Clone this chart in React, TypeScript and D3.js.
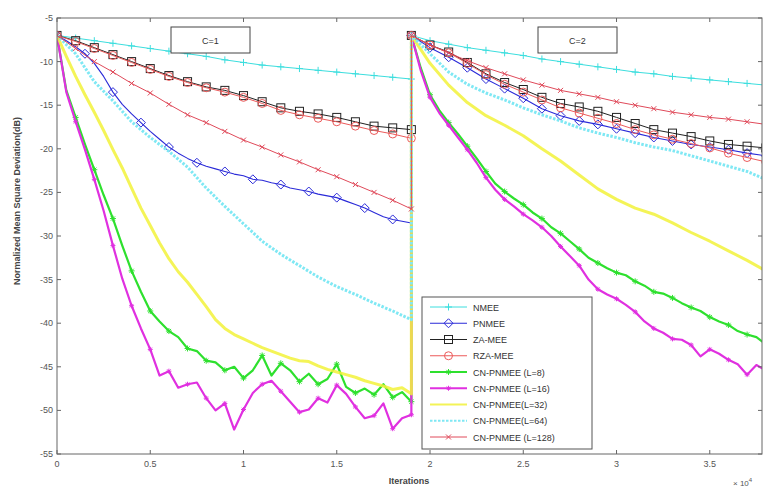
import React from "react";
import * as d3 from "d3";

// sample positions (x in units of 10^4 iterations)
const X1 = [0, 0.1, 0.2, 0.3, 0.4, 0.5, 0.6, 0.7, 0.8, 0.9, 1.0, 1.1, 1.2, 1.3, 1.4, 1.5, 1.6, 1.7, 1.8, 1.9];
const X2 = [1.9, 2.0, 2.1, 2.2, 2.3, 2.4, 2.5, 2.6, 2.7, 2.8, 2.9, 3.0, 3.1, 3.2, 3.3, 3.4, 3.5, 3.6, 3.7, 3.8];
const F1 = [0, 0.05, 0.1, 0.15, 0.2, 0.25, 0.3, 0.35, 0.4, 0.45, 0.5, 0.55, 0.6, 0.65, 0.7, 0.75, 0.8, 0.85, 0.9, 0.95, 1.0, 1.05, 1.1, 1.15, 1.2, 1.25, 1.3, 1.35, 1.4, 1.45, 1.5, 1.55, 1.6, 1.65, 1.7, 1.75, 1.8, 1.85, 1.9];
const F2 = [1.9, 1.95, 2.0, 2.05, 2.1, 2.15, 2.2, 2.25, 2.3, 2.35, 2.4, 2.45, 2.5, 2.55, 2.6, 2.65, 2.7, 2.75, 2.8, 2.85, 2.9, 2.95, 3.0, 3.05, 3.1, 3.15, 3.2, 3.25, 3.3, 3.35, 3.4, 3.45, 3.5, 3.55, 3.6, 3.65, 3.7, 3.75, 3.8];

// C=1 segment
const nmeeC1 = [-7, -7.3, -7.6, -7.9, -8.2, -8.5, -8.8, -9.1, -9.4, -9.8, -10.1, -10.4, -10.6, -10.8, -11.0, -11.2, -11.4, -11.6, -11.8, -12.0];
const pnmeeC1 = [-7, -7.6, -8.3, -9.1, -10.2, -11.7, -13.5, -14.9, -16.0, -17.0, -18.0, -18.9, -19.8, -20.5, -21.1, -21.6, -22.0, -22.3, -22.6, -22.9, -23.1, -23.5, -23.6, -23.9, -24.1, -24.5, -24.7, -24.9, -25.2, -25.4, -25.6, -26.0, -26.4, -26.8, -27.3, -27.8, -28.1, -28.3, -28.5];
const zaC1 = [-7, -7.6, -8.4, -9.2, -10.0, -10.8, -11.6, -12.3, -12.9, -13.3, -13.9, -14.6, -15.3, -15.7, -16.0, -16.4, -16.9, -17.4, -17.6, -17.8];
const rzaC1 = [-7, -7.7, -8.5, -9.3, -10.1, -10.9, -11.7, -12.4, -13.0, -13.5, -14.1, -14.8, -15.6, -16.1, -16.5, -16.9, -17.4, -17.9, -18.3, -18.8];
const l8C1 = [-7, -13.3, -16.4, -19.5, -22.4, -25.3, -28.0, -31.1, -34.0, -36.4, -38.6, -39.8, -40.9, -41.6, -42.9, -43.2, -44.3, -44.5, -45.4, -45.0, -46.3, -45.4, -43.7, -46.0, -44.6, -45.4, -46.7, -45.8, -47.0, -46.4, -44.7, -47.3, -48.0, -47.5, -48.2, -47.0, -48.5, -47.9, -49.0];
const l16C1 = [-7, -13.5, -16.9, -20.1, -23.5, -27.1, -31.1, -34.9, -38.0, -40.6, -43.0, -46.0, -45.5, -47.4, -47.0, -46.8, -48.6, -50.0, -49.2, -52.2, -49.9, -48.0, -47.0, -46.6, -47.8, -49.0, -50.2, -49.9, -48.6, -49.1, -47.1, -48.1, -49.6, -50.9, -50.6, -49.2, -52.1, -50.9, -50.5];
const l32C1 = [-7, -9.4, -11.7, -13.8, -15.8, -17.9, -20.1, -22.2, -24.5, -26.8, -28.8, -30.8, -32.6, -34.1, -35.3, -36.7, -38.1, -39.6, -40.6, -41.3, -41.8, -42.3, -42.8, -43.2, -43.6, -44.0, -44.3, -44.4, -44.9, -45.3, -45.6, -45.9, -46.2, -46.6, -46.9, -47.2, -47.6, -47.4, -48.1];
const l64C1 = [-7, -9.1, -12.3, -14.5, -16.9, -18.7, -20.3, -22.1, -24.5, -26.6, -28.6, -30.6, -32.1, -33.4, -34.7, -35.8, -36.7, -37.7, -38.6, -39.6];
const l128C1 = [-7, -8.5, -10.0, -11.2, -12.5, -13.6, -14.9, -16.1, -17.0, -18.0, -19.0, -19.8, -20.7, -21.5, -22.4, -23.2, -24.1, -25.0, -25.9, -26.9];

// C=2 segment
const nmeeC2 = [-7, -7.6, -8.0, -8.4, -8.7, -9.0, -9.3, -9.7, -10.0, -10.3, -10.6, -10.9, -11.2, -11.4, -11.7, -11.9, -12.1, -12.3, -12.5, -12.7];
const pnmeeC2 = [-7, -8.4, -9.5, -10.7, -12.0, -13.1, -14.2, -15.4, -16.2, -16.8, -17.2, -17.7, -18.2, -18.7, -19.1, -19.5, -19.8, -20.1, -20.5, -20.8];
const zaC2 = [-7, -8.1, -8.9, -10.1, -11.4, -12.4, -13.2, -14.1, -14.8, -15.2, -15.7, -16.4, -17.1, -17.8, -18.2, -18.6, -19.1, -19.5, -19.7, -19.9];
const rzaC2 = [-7, -8.1, -9.0, -10.2, -11.5, -12.6, -13.5, -14.4, -15.3, -15.9, -16.5, -17.1, -17.8, -18.4, -18.9, -19.4, -19.9, -20.5, -21.0, -21.5];
const l8C2 = [-7, -10.7, -13.8, -15.6, -17.0, -18.3, -19.7, -21.1, -22.6, -24.0, -24.9, -25.7, -26.4, -27.3, -28.0, -29.0, -29.7, -30.6, -31.5, -32.5, -33.1, -33.7, -34.2, -34.5, -35.2, -35.7, -36.4, -36.6, -37.1, -37.7, -38.2, -38.6, -39.3, -39.8, -40.2, -40.9, -41.3, -41.6, -42.4];
const l16C2 = [-7, -11.0, -14.1, -15.9, -17.3, -18.7, -20.1, -21.6, -23.3, -24.7, -25.8, -26.6, -27.5, -28.2, -29.0, -30.0, -31.2, -32.3, -33.4, -35.0, -36.1, -36.7, -37.2, -37.9, -38.7, -39.8, -40.6, -41.1, -41.8, -41.9, -42.5, -43.8, -43.0, -43.5, -44.2, -44.7, -45.9, -44.8, -45.4];
const l32C2 = [-7, -10.2, -12.7, -14.7, -16.2, -17.3, -18.5, -20.0, -21.4, -23.0, -24.6, -25.8, -26.8, -27.5, -28.5, -29.6, -30.6, -31.7, -32.8, -34.0];
const l64C2 = [-7, -9.1, -11.2, -12.6, -13.6, -14.4, -15.3, -16.1, -16.8, -17.6, -18.2, -18.7, -19.3, -19.8, -20.2, -20.8, -21.4, -22.0, -22.6, -23.5];
const l128C2 = [-7, -8.1, -9.0, -9.9, -10.7, -11.4, -12.1, -12.7, -13.3, -13.7, -14.1, -14.6, -15.0, -15.4, -15.8, -16.1, -16.4, -16.6, -16.9, -17.2];

const seriesNames = ["NMEE", "PNMEE", "ZA-MEE", "RZA-MEE", "CN-PNMEE (L=8)", "CN-PNMEE (L=16)", "CN-PNMEE(L=32)", "CN-PNMEE(L=64)", "CN-PNMEE (L=128)"];
const xTicks = [0, 0.5, 1, 1.5, 2, 2.5, 3, 3.5];
const xTickLabels = ["0", "0.5", "1", "1.5", "2", "2.5", "3", "3.5"];
const yTicks = [-5, -10, -15, -20, -25, -30, -35, -40, -45, -50, -55];

type Seg = { x: number[]; y: number[]; every: number };
type Series = { name: string; color: string; width: number; marker: string; msize: number; dash?: string; opacity?: number; segs: Seg[] };

const series: Series[] = [
  { name: seriesNames[0], color: "#3cdede", width: 1, marker: "plus", msize: 3.5, segs: [{ x: X1, y: nmeeC1, every: 1 }, { x: X2, y: nmeeC2, every: 1 }] },
  { name: seriesNames[1], color: "#2a2ad8", width: 1.1, marker: "diamond", msize: 4.5, segs: [{ x: F1, y: pnmeeC1, every: 3 }, { x: X2, y: pnmeeC2, every: 1 }] },
  { name: seriesNames[2], color: "#222222", width: 1, marker: "square", msize: 4, segs: [{ x: X1, y: zaC1, every: 1 }, { x: X2, y: zaC2, every: 1 }] },
  { name: seriesNames[3], color: "#ec5a5a", width: 1, marker: "circle", msize: 4, segs: [{ x: X1, y: rzaC1, every: 1 }, { x: X2, y: rzaC2, every: 1 }] },
  { name: seriesNames[4], color: "#2ee02e", width: 2.2, marker: "star", msize: 3, segs: [{ x: F1, y: l8C1, every: 2 }, { x: F2, y: l8C2, every: 2 }] },
  { name: seriesNames[5], color: "#e030e0", width: 2.2, marker: "star", msize: 2.5, segs: [{ x: F1, y: l16C1, every: 2 }, { x: F2, y: l16C2, every: 2 }] },
  { name: seriesNames[6], color: "#f2f23a", width: 3, marker: "none", msize: 0, opacity: 0.85, segs: [{ x: F1, y: l32C1, every: 1 }, { x: X2, y: l32C2, every: 1 }] },
  { name: seriesNames[7], color: "#7fe8f4", width: 3, marker: "none", msize: 0, dash: "2.5,1.5", segs: [{ x: X1, y: l64C1, every: 1 }, { x: X2, y: l64C2, every: 1 }] },
  { name: seriesNames[8], color: "#e04a5a", width: 1, marker: "x", msize: 2.5, segs: [{ x: X1, y: l128C1, every: 1 }, { x: X2, y: l128C2, every: 1 }] },
];

const W = 764, H = 487;
const L = 57, R = 762, T = 18, B = 454;

function Marker({ type, cx, cy, s, color }: { type: string; cx: number; cy: number; s: number; color: string }) {
  const t = `translate(${cx},${cy})`;
  const common = { fill: "none", stroke: color, strokeWidth: 1 };
  if (type === "plus") return <path transform={t} d={`M${-s},0H${s}M0,${-s}V${s}`} {...common} />;
  if (type === "x") return <path transform={t} d={`M${-s},${-s}L${s},${s}M${-s},${s}L${s},${-s}`} {...common} />;
  if (type === "star") return <path transform={t} d={`M${-s},0H${s}M0,${-s}V${s}M${-s * 0.7},${-s * 0.7}L${s * 0.7},${s * 0.7}M${-s * 0.7},${s * 0.7}L${s * 0.7},${-s * 0.7}`} {...common} />;
  if (type === "diamond") return <path transform={t} d={`M0,${-s}L${s},0L0,${s}L${-s},0Z`} {...common} />;
  if (type === "square") return <rect x={cx - s} y={cy - s} width={2 * s} height={2 * s} {...common} />;
  if (type === "circle") return <circle cx={cx} cy={cy} r={s} {...common} />;
  return null;
}

export default function App() {
  const x = d3.scaleLinear().domain([0, 3.78]).range([L, R]);
  const y = d3.scaleLinear().domain([-55, -5]).range([B, T]);
  const line = d3.line<[number, number]>().x((d) => x(d[0])).y((d) => y(d[1]));
  const font = "Arial, 'Liberation Sans', sans-serif";
  const tickCol = "#555";

  const legendX = 422, legendY = 297, legendW = 170, legendH = 152;
  const rowH = 16.25;

  return (
    <svg width={W} height={H} style={{ position: "absolute", left: 0, top: 0, background: "#fff" }} fontFamily={font}>
      <defs>
        <clipPath id="plot"><rect x={L} y={T} width={R - L} height={B - T} /></clipPath>
      </defs>
      <rect x={0} y={0} width={W} height={H} fill="#fff" />
      <g clipPath="url(#plot)">
        {series.map((s, i) => {
          const pts: [number, number][] = [];
          s.segs.forEach((seg) => seg.x.forEach((xv, k) => pts.push([xv, seg.y[k]])));
          return (
            <g key={i}>
              <path d={line(pts) || ""} fill="none" stroke={s.color} strokeWidth={s.width} strokeDasharray={s.dash} opacity={s.opacity ?? 1} strokeLinejoin="round" />
              {s.marker !== "none" &&
                s.segs.map((seg, j) =>
                  seg.x.map((xv, k) =>
                    k % seg.every === 0 ? <Marker key={`${j}-${k}`} type={s.marker} cx={x(xv)} cy={y(seg.y[k])} s={s.msize} color={s.color} /> : null
                  )
                )}
            </g>
          );
        })}
      </g>
      {/* axes box */}
      <rect x={L} y={T} width={R - L} height={B - T} fill="none" stroke="#666" strokeWidth={1} />
      {xTicks.map((t, i) => (
        <g key={`xt${i}`}>
          <line x1={x(t)} x2={x(t)} y1={B} y2={B - 4} stroke="#666" />
          <line x1={x(t)} x2={x(t)} y1={T} y2={T + 4} stroke="#666" />
          <text x={x(t)} y={B + 13} fontSize={9} fill={tickCol} textAnchor="middle">{xTickLabels[i]}</text>
        </g>
      ))}
      {yTicks.map((t, i) => (
        <g key={`yt${i}`}>
          <line x1={L} x2={L + 4} y1={y(t)} y2={y(t)} stroke="#666" />
          <line x1={R} x2={R - 4} y1={y(t)} y2={y(t)} stroke="#666" />
          <text x={L - 4} y={y(t) + 3} fontSize={9} fill={tickCol} textAnchor="end">{t}</text>
        </g>
      ))}
      <text x={409} y={484} fontSize={9} fontWeight="bold" fill="#444" textAnchor="middle">Iterations</text>
      <text x={733} y={486} fontSize={8} fill="#555">× 10<tspan dy={-4} fontSize={6}>4</tspan></text>
      <text transform="translate(20,201) rotate(-90)" fontSize={9} fontWeight="bold" fill="#444" textAnchor="middle">Normalized Mean Square Deviation(dB)</text>

      {/* panel labels */}
      <rect x={171} y={27} width={79} height={26} fill="#fff" stroke="#444" />
      <text x={210.5} y={43.5} fontSize={9} fill="#333" textAnchor="middle">C=1</text>
      <rect x={538} y={27} width={79} height={26} fill="#fff" stroke="#444" />
      <text x={577.5} y={43.5} fontSize={9} fill="#333" textAnchor="middle">C=2</text>

      {/* legend */}
      <rect x={legendX} y={legendY} width={legendW} height={legendH} fill="#fff" stroke="#555" />
      {series.map((s, i) => {
        const cy = legendY + 10 + i * rowH;
        return (
          <g key={`lg${i}`}>
            <line x1={legendX + 8} x2={legendX + 45} y1={cy} y2={cy} stroke={s.color} strokeWidth={Math.min(s.width, 2)} strokeDasharray={s.dash} opacity={s.opacity ?? 1} />
            {s.marker !== "none" && <Marker type={s.marker} cx={legendX + 26.5} cy={cy} s={s.msize} color={s.color} />}
            <text x={legendX + 51} y={cy + 3.5} fontSize={9} fill="#333">{s.name}</text>
          </g>
        );
      })}
    </svg>
  );
}
